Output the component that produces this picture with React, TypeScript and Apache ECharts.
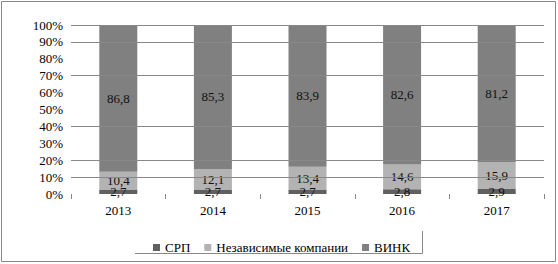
import React, { useEffect, useRef } from "react";
import * as echarts from "echarts";

const years = ["2013", "2014", "2015", "2016", "2017"];
const srp = [2.7, 2.7, 2.7, 2.8, 2.9];
const independent = [10.4, 12.1, 13.4, 14.6, 15.9];
const vink = [86.8, 85.3, 83.9, 82.6, 81.2];
const seriesNames = ["СРП", "Независимые компании", "ВИНК"];
const gridLevels = [10, 20, 40, 70, 90, 100];

const FONT = "Liberation Serif, DejaVu Serif, serif";

export default function App() {
  const ref = useRef<HTMLDivElement>(null);
  useEffect(() => {
    document.body.style.margin = "0";
    const chart = echarts.init(ref.current!, null, { renderer: "svg" });
    const fmt = (p: any) => String(p.value).replace(".", ",");
    const label = {
      show: true,
      position: "inside",
      color: "#111",
      fontFamily: FONT,
      fontSize: 13,
      formatter: fmt,
    };
    const colors = ["#606060", "#b3b3b3", "#808080"];
    const datas = [srp, independent, vink];
    chart.setOption({
      animation: false,
      textStyle: { fontFamily: FONT },
      grid: { left: 71, right: 14, top: 25, bottom: 70 },
      legend: {
        data: seriesNames,
        left: 148,
        top: 236,
        icon: "rect",
        itemWidth: 7,
        itemHeight: 7,
        itemGap: 14,
        textStyle: { fontFamily: FONT, fontSize: 13, color: "#000" },
      },
      xAxis: {
        type: "category",
        data: years,
        axisLine: { show: false },
        axisTick: { show: true, length: 5, lineStyle: { color: "#888" } },
        axisLabel: { fontFamily: FONT, fontSize: 13, color: "#000", margin: 10 },
      },
      yAxis: {
        type: "value",
        min: 0,
        max: 100,
        interval: 10,
        axisLine: { show: false },
        axisTick: { show: false },
        splitLine: { show: false },
        axisLabel: {
          fontFamily: FONT,
          fontSize: 13,
          color: "#000",
          margin: 8,
          formatter: "{value}%",
        },
      },
      graphic: [
        {
          type: "rect",
          shape: { x: 1.5, y: 1.5, width: 554, height: 260 },
          style: { fill: "none", stroke: "#888", lineWidth: 1 },
          silent: true,
        },
        {
          type: "polyline",
          shape: { points: [[135, 253.5], [422.5, 253.5], [422.5, 231]] },
          style: { fill: "none", stroke: "#888", lineWidth: 1 },
          silent: true,
        },
      ],
      series: [
        {
          type: "line",
          data: [],
          z: 1,
          silent: true,
          markLine: {
            silent: true,
            symbol: "none",
            label: { show: false },
            lineStyle: { color: "#888", width: 1, type: "solid" },
            data: gridLevels.map((v) => ({ yAxis: v })),
          },
        },
        ...seriesNames.map((name, i) => ({
          name,
          type: "bar",
          stack: "total",
          barWidth: 38,
          z: 2,
          data: datas[i],
          itemStyle: { color: colors[i] },
          label,
        })),
      ],
    });
    return () => chart.dispose();
  }, []);
  return <div ref={ref} style={{ width: 558, height: 264 }} />;
}
